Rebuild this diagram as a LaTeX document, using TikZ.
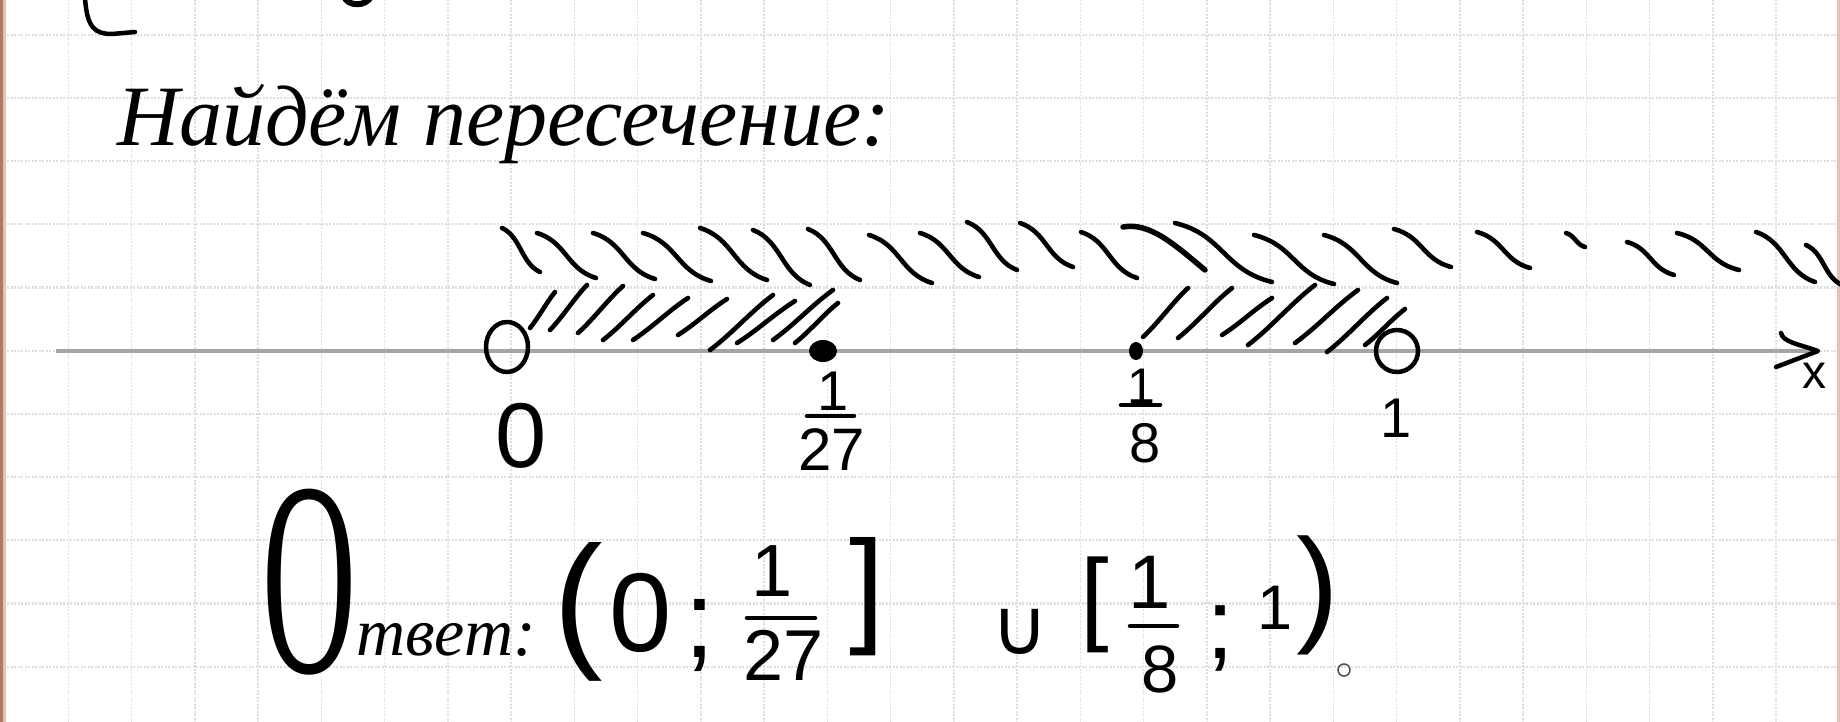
\documentclass[tikz,border=0pt]{standalone}
\usepackage{fontspec}
\usepackage{graphicx}
\setmainfont{Liberation Serif}
\newfontfamily\numf{Liberation Sans}
\newfontfamily\djv{DejaVu Sans}
\usetikzlibrary{calc}
\newcommand\fs[1]{\fontsize{#1}{#1}\selectfont}
\definecolor{edgebrown}{RGB}{175,120,100}
\definecolor{edgelight}{RGB}{228,195,180}
\definecolor{gridgray}{RGB}{222,222,222}
\definecolor{axisgray}{RGB}{165,165,165}
\tikzset{
  ink/.style={line width=4.5pt, line cap=round, line join=round, black},
  hatch/.style={line width=4.6pt, line cap=round, black},
  gridh/.style={gridgray, line width=2.2pt, dash pattern=on 2pt off 1.5pt},
  gridv/.style={gridgray, line width=1.4pt, dash pattern=on 2pt off 1.5pt},
  axisline/.style={axisgray, line width=3.5pt},
  num/.style={inner sep=0pt, font=\numf},
  txt/.style={inner sep=0pt}
}
\begin{document}
\begin{tikzpicture}[x=1pt,y=-1pt]
\useasboundingbox (0,0) rectangle (1840,722);
\clip (0,0) rectangle (1840,722);
\fill[white] (0,0) rectangle (1840,722);
% grid
\foreach \i in {1,...,29} \draw[gridv] ({5.05+63.25*\i},0) -- ({5.05+63.25*\i},722);
\foreach \j in {0,...,10} \draw[gridh] (0,{34.7+63.2*\j}) -- (1840,{34.7+63.2*\j});
% page edges
\fill[edgebrown] (0,0) rectangle (3,722);
\fill[edgelight] (3,0) rectangle (6,722);
\fill[edgelight] (1837,0) rectangle (1840,722);
% fragments of previous line
\draw[ink] (85,-2) .. controls (87,28) and (95,34) .. (112,34) -- (135,32);
\draw[ink, line width=6pt] (344,-4) .. controls (347,7) and (367,7) .. (371,-4);
% title
\node[txt, anchor=base west] (title) at (117,146) {\itshape\fs{86}Найдём пересечение:};
% axis
\coordinate (axs) at (56,351);
\coordinate (axe) at (1814,351);
\draw[axisline] (axs) -- (axe);
\draw[ink] (1781,333) .. controls (1783,342) and (1798,344) .. (1818,351) -- (1776,367);
\node[num] (lx) at (1814,376) {\fs{48}x};
% upper hatching
\foreach \a/\b/\c/\d in {502/228/540/272, 537/233/596/278, 593/233/655/279, 643/233/711/281,
  700/228/767/280, 753/230/810/285, 808/229/860/280, 869/235/932/283, 920/233/979/277,
  967/222/1017/270, 1020/223/1073/267, 1081/232/1137/278, 1175/223/1272/282,
  1254/235/1334/284, 1324/235/1397/283, 1394/229/1451/267, 1477/232/1530/268,
  1566/233/1585/247, 1627/242/1674/275, 1677/233/1739/270, 1756/232/1815/282, 1806/245/1842/285}
  \draw[hatch] (\a,\b) .. controls ({\a+0.5*(\c-\a)},{\b+0.2*(\d-\b)}) and ({\c-0.5*(\c-\a)},{\d-0.2*(\d-\b)}) .. (\c,\d);
\draw[hatch, line width=5.5pt] (1123,227) .. controls (1150,222) and (1175,245) .. (1205,270);
% lower hatching
\foreach \a/\b/\c/\d in {530/328/555/292, 550/330/587/285, 578/333/623/286, 603/340/653/295,
  633/340/688/298, 678/335/727/299, 710/350/773/295, 737/343/795/301, 773/340/833/290, 795/343/838/303,
  1143/337/1188/288, 1178/338/1232/288, 1222/335/1272/298, 1248/345/1315/285, 1295/343/1358/290,
  1327/352/1387/298, 1365/345/1405/309}
  \draw[hatch] (\a,\b) .. controls ({\a+0.35*(\c-\a)},{\b+0.3*(\d-\b)}) and ({\c-0.35*(\c-\a)},{\d-0.3*(\d-\b)}) .. (\c,\d);
% points
\draw[ink] (507,347) ellipse [x radius=21, y radius=25];
\fill[black] (823,351) ellipse [x radius=14, y radius=11];
\fill[black] (1136,351) ellipse [x radius=7, y radius=9];
\draw[ink] (1397,351) ellipse [x radius=21, y radius=21];
% labels under axis
\node[num] (l0) at (521,436) {\fs{92}0};
\node[num] (l27n) at (833,391) {\fs{56}1};
\draw[ink] (807,416) -- (854,416);
\node[num] (l27d) at (832,450) {\fs{60}27};
\node[num] (l8n) at (1141,386) {\fs{50}1};
\draw[ink] (1121,405) -- (1160,405);
\node[num] (l8d) at (1145,443) {\fs{56}8};
\node[num] (l1) at (1396,418) {\fs{56}1};
% answer
\node[txt, anchor=base west] (ans) at (262,672) {\scalebox{0.47}[1]{\fs{277}О}\raisebox{17pt}{\itshape\fs{68}твет:}};
\node[num] (ap1) at (578,612) {\fs{149}(};
\node[num] (a0) at (641,613) {\fs{112}0};
\node[num] (asc1) at (700,635) {\fs{110};};
\node[num] (a27n) at (772,571) {\fs{74}1};
\draw[ink] (747,618) -- (815,618);
\node[num] (a27d) at (784,655) {\fs{72}27};
\node[num] (abr1) at (867,597) {\fs{127}]};
\node[num] (acup) at (1020,632) {\djv\fs{78}∪};
\node[num] (abr2) at (1095,605) {\fs{103}[};
\node[num] (a8n) at (1150,582) {\fs{76}1};
\draw[ink] (1130,626) -- (1177,626);
\node[num] (a8d) at (1160,669) {\fs{67}8};
\node[num] (asc2) at (1220,638) {\fs{100};};
\node[num] (a1) at (1275,608) {\fs{63}1};
\node[num] (ap2) at (1318,595) {\fs{128})};
\draw[line width=1.5pt, black!70] (1344,670) circle (6);
\end{tikzpicture}
\end{document}
